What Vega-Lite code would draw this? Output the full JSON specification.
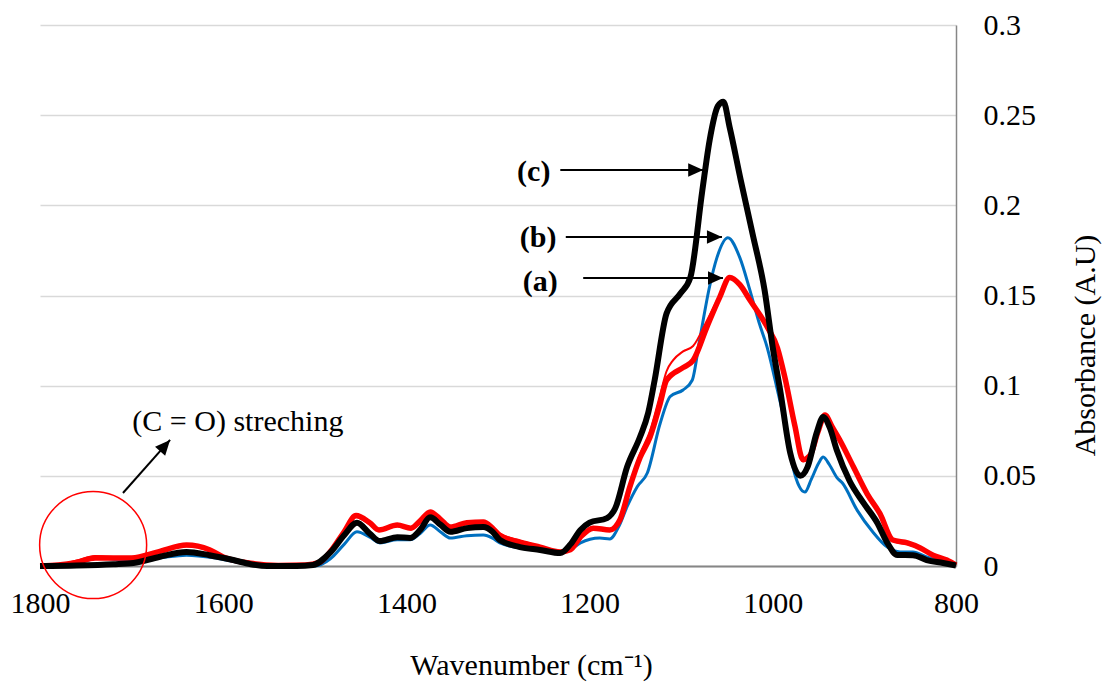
{
  "$schema": "https://vega.github.io/schema/vega-lite/v6.json",
  "width": 916,
  "height": 541,
  "autosize": {"type": "none"},
  "padding": {"left": 40, "top": 25, "right": 147, "bottom": 118},
  "background": "white",
  "config": {
    "view": {"stroke": null},
    "font": "Liberation Serif",
    "text": {"font": "Liberation Serif"},
    "axis": {"labelFont": "Liberation Serif", "titleFont": "Liberation Serif", "labelColor": "black", "titleColor": "black", "titleFontWeight": "normal"}
  },
  "datasets": {
    "spectra": [
      {"s":"c","x":1800,"y":0},{"s":"c","x":1760,"y":0.0003},{"s":"c","x":1720,"y":0.001},{"s":"c","x":1698,"y":0.0017},{"s":"c","x":1670,"y":0.005},{"s":"c","x":1640,"y":0.0078},{"s":"c","x":1615,"y":0.006},{"s":"c","x":1589,"y":0.0033},{"s":"c","x":1570,"y":0.001},{"s":"c","x":1552,"y":0},{"s":"c","x":1520,"y":0},{"s":"c","x":1502,"y":0.0006},{"s":"c","x":1483,"y":0.0075},{"s":"c","x":1468,"y":0.017},{"s":"c","x":1454,"y":0.024},{"s":"c","x":1440,"y":0.018},{"s":"c","x":1429,"y":0.0138},{"s":"c","x":1410,"y":0.016},{"s":"c","x":1396,"y":0.0155},{"s":"c","x":1385,"y":0.02},{"s":"c","x":1374,"y":0.027},{"s":"c","x":1363,"y":0.023},{"s":"c","x":1352,"y":0.019},{"s":"c","x":1334,"y":0.021},{"s":"c","x":1316,"y":0.0216},{"s":"c","x":1306,"y":0.019},{"s":"c","x":1298,"y":0.0144},{"s":"c","x":1276,"y":0.0105},{"s":"c","x":1254,"y":0.0089},{"s":"c","x":1232,"y":0.0072},{"s":"c","x":1221,"y":0.012},{"s":"c","x":1210,"y":0.02},{"s":"c","x":1200,"y":0.024},{"s":"c","x":1181,"y":0.0266},{"s":"c","x":1172,"y":0.032},{"s":"c","x":1159,"y":0.055},{"s":"c","x":1145,"y":0.0715},{"s":"c","x":1136,"y":0.085},{"s":"c","x":1129,"y":0.103},{"s":"c","x":1116,"y":0.14},{"s":"c","x":1101,"y":0.151},{"s":"c","x":1090,"y":0.16},{"s":"c","x":1077,"y":0.208},{"s":"c","x":1069,"y":0.236},{"s":"c","x":1060,"y":0.255},{"s":"c","x":1054,"y":0.2575},{"s":"c","x":1047,"y":0.243},{"s":"c","x":1035,"y":0.214},{"s":"c","x":1022,"y":0.184},{"s":"c","x":1009,"y":0.153},{"s":"c","x":1000,"y":0.121},{"s":"c","x":992,"y":0.0976},{"s":"c","x":981,"y":0.0627},{"s":"c","x":970,"y":0.05},{"s":"c","x":962,"y":0.055},{"s":"c","x":952,"y":0.074},{"s":"c","x":945,"y":0.0826},{"s":"c","x":938,"y":0.077},{"s":"c","x":930,"y":0.064},{"s":"c","x":916,"y":0.047},{"s":"c","x":901,"y":0.035},{"s":"c","x":886,"y":0.024},{"s":"c","x":875,"y":0.0128},{"s":"c","x":864,"y":0.0061},{"s":"c","x":847,"y":0.006},{"s":"c","x":832,"y":0.0033},{"s":"c","x":814,"y":0.0017},{"s":"c","x":800,"y":0.0003},

      {"s":"b","x":1800,"y":0},{"s":"b","x":1770,"y":0.0005},{"s":"b","x":1750,"y":0.003},{"s":"b","x":1734,"y":0.0044},{"s":"b","x":1715,"y":0.0035},{"s":"b","x":1700,"y":0.003},{"s":"b","x":1670,"y":0.0045},{"s":"b","x":1640,"y":0.006},{"s":"b","x":1610,"y":0.0045},{"s":"b","x":1589,"y":0.0025},{"s":"b","x":1560,"y":0.0005},{"s":"b","x":1520,"y":0},{"s":"b","x":1500,"y":0},{"s":"b","x":1483,"y":0.004},{"s":"b","x":1468,"y":0.012},{"s":"b","x":1454,"y":0.019},{"s":"b","x":1440,"y":0.016},{"s":"b","x":1429,"y":0.0128},{"s":"b","x":1410,"y":0.0145},{"s":"b","x":1396,"y":0.0145},{"s":"b","x":1385,"y":0.018},{"s":"b","x":1374,"y":0.0227},{"s":"b","x":1363,"y":0.019},{"s":"b","x":1352,"y":0.0155},{"s":"b","x":1334,"y":0.0168},{"s":"b","x":1316,"y":0.0172},{"s":"b","x":1306,"y":0.0155},{"s":"b","x":1298,"y":0.0128},{"s":"b","x":1276,"y":0.01},{"s":"b","x":1254,"y":0.0085},{"s":"b","x":1232,"y":0.0072},{"s":"b","x":1221,"y":0.009},{"s":"b","x":1210,"y":0.0128},{"s":"b","x":1189,"y":0.0155},{"s":"b","x":1178,"y":0.015},{"s":"b","x":1168,"y":0.022},{"s":"b","x":1159,"y":0.033},{"s":"b","x":1148,"y":0.044},{"s":"b","x":1137,"y":0.0516},{"s":"b","x":1123,"y":0.079},{"s":"b","x":1112,"y":0.094},{"s":"b","x":1098,"y":0.0976},{"s":"b","x":1088,"y":0.103},{"s":"b","x":1080,"y":0.125},{"s":"b","x":1069,"y":0.155},{"s":"b","x":1061,"y":0.171},{"s":"b","x":1049,"y":0.182},{"s":"b","x":1036,"y":0.171},{"s":"b","x":1025,"y":0.153},{"s":"b","x":1015,"y":0.135},{"s":"b","x":1006,"y":0.121},{"s":"b","x":995,"y":0.0976},{"s":"b","x":985,"y":0.075},{"s":"b","x":978,"y":0.055},{"s":"b","x":971,"y":0.044},{"s":"b","x":965,"y":0.041},{"s":"b","x":958,"y":0.048},{"s":"b","x":950,"y":0.057},{"s":"b","x":945,"y":0.0604},{"s":"b","x":938,"y":0.056},{"s":"b","x":930,"y":0.049},{"s":"b","x":924,"y":0.046},{"s":"b","x":908,"y":0.031},{"s":"b","x":891,"y":0.019},{"s":"b","x":875,"y":0.0105},{"s":"b","x":861,"y":0.0078},{"s":"b","x":847,"y":0.0078},{"s":"b","x":832,"y":0.005},{"s":"b","x":814,"y":0.0022},{"s":"b","x":800,"y":0.0005},

      {"s":"a","x":1800,"y":0},{"s":"a","x":1780,"y":0.0005},{"s":"a","x":1760,"y":0.002},{"s":"a","x":1740,"y":0.0045},{"s":"a","x":1720,"y":0.0045},{"s":"a","x":1700,"y":0.0045},{"s":"a","x":1670,"y":0.008},{"s":"a","x":1640,"y":0.0116},{"s":"a","x":1615,"y":0.009},{"s":"a","x":1600,"y":0.005},{"s":"a","x":1570,"y":0.0015},{"s":"a","x":1540,"y":0.0003},{"s":"a","x":1510,"y":0.0005},{"s":"a","x":1495,"y":0.002},{"s":"a","x":1483,"y":0.008},{"s":"a","x":1468,"y":0.019},{"s":"a","x":1455,"y":0.028},{"s":"a","x":1440,"y":0.024},{"s":"a","x":1430,"y":0.02},{"s":"a","x":1410,"y":0.0227},{"s":"a","x":1395,"y":0.021},{"s":"a","x":1385,"y":0.025},{"s":"a","x":1374,"y":0.03},{"s":"a","x":1363,"y":0.026},{"s":"a","x":1352,"y":0.0216},{"s":"a","x":1334,"y":0.024},{"s":"a","x":1316,"y":0.0244},{"s":"a","x":1306,"y":0.021},{"s":"a","x":1298,"y":0.017},{"s":"a","x":1276,"y":0.0133},{"s":"a","x":1254,"y":0.0105},{"s":"a","x":1232,"y":0.0078},{"s":"a","x":1221,"y":0.009},{"s":"a","x":1210,"y":0.016},{"s":"a","x":1196,"y":0.021},{"s":"a","x":1178,"y":0.02},{"s":"a","x":1167,"y":0.0255},{"s":"a","x":1156,"y":0.044},{"s":"a","x":1145,"y":0.06},{"s":"a","x":1134,"y":0.0715},{"s":"a","x":1123,"y":0.09},{"s":"a","x":1116,"y":0.103},{"s":"a","x":1098,"y":0.11},{"s":"a","x":1087,"y":0.114},{"s":"a","x":1072,"y":0.1325},{"s":"a","x":1058,"y":0.149},{"s":"a","x":1047,"y":0.16},{"s":"a","x":1036,"y":0.156},{"s":"a","x":1025,"y":0.1475},{"s":"a","x":1006,"y":0.1325},{"s":"a","x":995,"y":0.121},{"s":"a","x":987,"y":0.105},{"s":"a","x":976,"y":0.078},{"s":"a","x":967,"y":0.059},{"s":"a","x":959,"y":0.0616},{"s":"a","x":951,"y":0.074},{"s":"a","x":943,"y":0.0837},{"s":"a","x":935,"y":0.077},{"s":"a","x":927,"y":0.07},{"s":"a","x":912,"y":0.055},{"s":"a","x":897,"y":0.04},{"s":"a","x":883,"y":0.029},{"s":"a","x":869,"y":0.0144},{"s":"a","x":853,"y":0.0128},{"s":"a","x":839,"y":0.01},{"s":"a","x":825,"y":0.006},{"s":"a","x":810,"y":0.0033},{"s":"a","x":800,"y":0.0005},

      {"s":"a2","x":1800,"y":0},{"s":"a2","x":1780,"y":0.0008},{"s":"a2","x":1760,"y":0.003},{"s":"a2","x":1740,"y":0.0055},{"s":"a2","x":1720,"y":0.005},{"s":"a2","x":1700,"y":0.0048},{"s":"a2","x":1670,"y":0.008},{"s":"a2","x":1640,"y":0.011},{"s":"a2","x":1615,"y":0.0085},{"s":"a2","x":1600,"y":0.005},{"s":"a2","x":1570,"y":0.0015},{"s":"a2","x":1540,"y":0.0003},{"s":"a2","x":1510,"y":0.0005},{"s":"a2","x":1495,"y":0.002},{"s":"a2","x":1483,"y":0.008},{"s":"a2","x":1468,"y":0.0185},{"s":"a2","x":1455,"y":0.027},{"s":"a2","x":1440,"y":0.023},{"s":"a2","x":1430,"y":0.0195},{"s":"a2","x":1410,"y":0.022},{"s":"a2","x":1395,"y":0.0205},{"s":"a2","x":1385,"y":0.0245},{"s":"a2","x":1374,"y":0.0295},{"s":"a2","x":1363,"y":0.0255},{"s":"a2","x":1352,"y":0.021},{"s":"a2","x":1334,"y":0.0235},{"s":"a2","x":1316,"y":0.024},{"s":"a2","x":1306,"y":0.021},{"s":"a2","x":1298,"y":0.018},{"s":"a2","x":1276,"y":0.014},{"s":"a2","x":1254,"y":0.011},{"s":"a2","x":1232,"y":0.0078},{"s":"a2","x":1221,"y":0.009},{"s":"a2","x":1210,"y":0.016},{"s":"a2","x":1196,"y":0.021},{"s":"a2","x":1178,"y":0.02},{"s":"a2","x":1167,"y":0.026},{"s":"a2","x":1156,"y":0.045},{"s":"a2","x":1145,"y":0.062},{"s":"a2","x":1134,"y":0.075},{"s":"a2","x":1123,"y":0.095},{"s":"a2","x":1116,"y":0.108},{"s":"a2","x":1109,"y":0.114},{"s":"a2","x":1098,"y":0.119},{"s":"a2","x":1087,"y":0.122},{"s":"a2","x":1072,"y":0.136},{"s":"a2","x":1058,"y":0.15},{"s":"a2","x":1047,"y":0.16},{"s":"a2","x":1036,"y":0.156},{"s":"a2","x":1025,"y":0.147},{"s":"a2","x":1006,"y":0.131},{"s":"a2","x":995,"y":0.119},{"s":"a2","x":987,"y":0.103},{"s":"a2","x":976,"y":0.076},{"s":"a2","x":967,"y":0.058},{"s":"a2","x":959,"y":0.062},{"s":"a2","x":951,"y":0.075},{"s":"a2","x":943,"y":0.083},{"s":"a2","x":935,"y":0.077},{"s":"a2","x":927,"y":0.069},{"s":"a2","x":912,"y":0.054},{"s":"a2","x":897,"y":0.039},{"s":"a2","x":883,"y":0.028},{"s":"a2","x":869,"y":0.014},{"s":"a2","x":853,"y":0.012},{"s":"a2","x":839,"y":0.0095},{"s":"a2","x":825,"y":0.006},{"s":"a2","x":810,"y":0.003},{"s":"a2","x":800,"y":0.0005}
    ],
    "arrows": [
      {"x":1232,"x2":1076,"y":0.2196,"y2":0.2196},
      {"x":1226,"x2":1055.5,"y":0.1824,"y2":0.1824},
      {"x":1207,"x2":1054.4,"y":0.1597,"y2":0.1597},
      {"x":1709.4,"x2":1658,"y":0.0405,"y2":0.0699}
    ],
    "heads": [
      {"x":1076,"y":0.2196,"dir":0},
      {"x":1055.5,"y":0.1824,"dir":0},
      {"x":1054.4,"y":0.1597,"dir":0},
      {"x":1658,"y":0.0699,"dir":-48.4}
    ],
    "labels": [
      {"x":1261,"y":0.2185,"t":"(c)"},
      {"x":1256.3,"y":0.1819,"t":"(b)"},
      {"x":1254,"y":0.1575,"t":"(a)"}
    ],
    "note": [{"x":1584,"y":0.0799,"t":"(C = O) streching"}],
    "ring": [{"x":1742,"y":0.0116}]
  },
  "encoding": {
    "x": {
      "field": "x", "type": "quantitative",
      "scale": {"domain": [800, 1800], "reverse": true, "nice": false, "zero": false},
      "axis": {
        "orient": "bottom", "values": [800, 1000, 1200, 1400, 1600, 1800], "format": "d",
        "grid": false, "ticks": false, "domain": true, "domainColor": "#868686", "domainWidth": 2,
        "labelFont": "Liberation Serif", "labelFontSize": 30, "labelPadding": 22, "labelFlush": false,
        "title": "Wavenumber (cm⁻¹)", "titleFont": "Liberation Serif", "titleFontSize": 30, "titleX": 491, "titleY": 99,
        "titleAlign": "center", "titleBaseline": "middle", "titleAnchor": null
      }
    },
    "y": {
      "field": "y", "type": "quantitative",
      "scale": {"domain": [0, 0.3], "nice": false, "zero": true},
      "axis": {
        "orient": "right", "values": [0, 0.05, 0.1, 0.15, 0.2, 0.25, 0.3], "format": "~g",
        "grid": true, "gridColor": "#d9d9d9", "gridWidth": 1.5,
        "ticks": false, "domain": true, "domainColor": "#868686", "domainWidth": 1.5,
        "labelFont": "Liberation Serif", "labelFontSize": 30, "labelPadding": 27, "labelAlign": "left", "labelBaseline": "middle", "labelFlush": false,
        "title": "Absorbance (A.U)", "titleFont": "Liberation Serif", "titleFontSize": 30, "titleAngle": 270,
        "titleX": 129, "titleY": 320, "titleAlign": "center", "titleBaseline": "middle", "titleAnchor": null
      }
    }
  },
  "layer": [
    {"data": {"name": "spectra"}, "transform": [{"filter": "datum.s === 'b'"}],
     "mark": {"type": "line", "color": "#0070C0", "strokeWidth": 3, "interpolate": "monotone"}},
    {"data": {"name": "spectra"}, "transform": [{"filter": "datum.s === 'a2'"}],
     "mark": {"type": "line", "color": "#FF0000", "strokeWidth": 2, "interpolate": "monotone"}},
    {"data": {"name": "spectra"}, "transform": [{"filter": "datum.s === 'a'"}],
     "mark": {"type": "line", "color": "#FF0000", "strokeWidth": 5.5, "interpolate": "monotone"}},
    {"data": {"name": "spectra"}, "transform": [{"filter": "datum.s === 'c'"}],
     "mark": {"type": "line", "color": "#000000", "strokeWidth": 6, "interpolate": "monotone"}},
    {"data": {"name": "arrows"},
     "mark": {"type": "rule", "color": "black", "strokeWidth": 2},
     "encoding": {"x2": {"field": "x2"}, "y2": {"field": "y2"}}},
    {"data": {"name": "heads"},
     "mark": {"type": "point", "shape": "M0,0L-2,-0.9L-2,0.9Z", "filled": true, "color": "black", "size": 225, "opacity": 1},
     "encoding": {"angle": {"field": "dir", "type": "quantitative", "scale": null}}},
    {"data": {"name": "labels"},
     "mark": {"type": "text", "font": "Liberation Serif", "fontSize": 30, "fontWeight": "bold", "align": "center", "baseline": "middle", "color": "black"},
     "encoding": {"text": {"field": "t"}}},
    {"data": {"name": "note"},
     "mark": {"type": "text", "font": "Liberation Serif", "fontSize": 30, "fontWeight": "normal", "align": "center", "baseline": "middle", "color": "black"},
     "encoding": {"text": {"field": "t"}}},
    {"data": {"name": "ring"},
     "mark": {"type": "point", "shape": "circle", "filled": false, "stroke": "#FF0000", "strokeWidth": 1.5, "size": 11450, "opacity": 1}}
  ]
}
